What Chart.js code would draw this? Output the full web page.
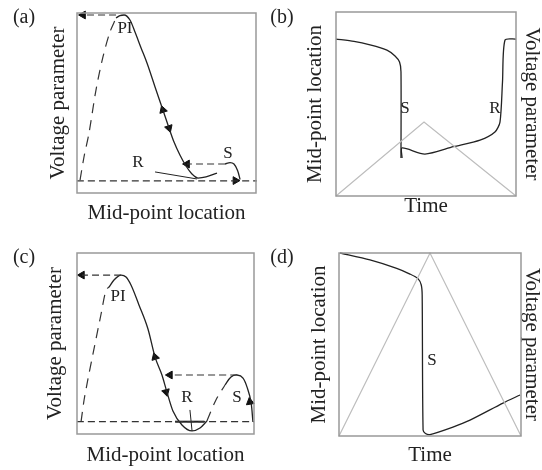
<!DOCTYPE html>
<html>
<head>
<meta charset="utf-8">
<script src="https://cdn.jsdelivr.net/npm/chart.js@4.4.0/dist/chart.umd.min.js"></script>
<style>
  html, body { margin: 0; padding: 0; background: #fff; }
  #wrap { position: relative; width: 542px; height: 470px; }
  .panel { position: absolute; width: 271px; height: 235px; }
</style>
</head>
<body>
<div id="wrap">
  <div class="panel" style="left:0;top:0"><canvas id="chartA"></canvas></div>
  <div class="panel" style="left:271px;top:0"><canvas id="chartB"></canvas></div>
  <div class="panel" style="left:0;top:235px"><canvas id="chartC"></canvas></div>
  <div class="panel" style="left:271px;top:235px"><canvas id="chartD"></canvas></div>
</div>
<script>
// Datos (ejes 0-100 en cada panel)

// Panel (a)
const aCurve = [[21.8,97.2],[24.0,98.6],[26.3,98.9],[29.6,96.1],[32.4,89.4],[35.8,80.6],[39.1,72.2],[43.6,58.9],[48.0,46.1],[51.4,36.1],[54.2,28.3],[57.5,21.1],[60.9,15.0],[64.2,10.6],[67.6,8.3],[72.1,8.9],[78.2,11.1]];
const aUnstable = [[1.7,7.2],[3.9,20.0],[6.7,33.3],[10.6,57.2],[14.5,75.6],[18.4,89.4],[21.8,97.2]];
const aTopJump = [[21.8,98.9],[3.4,98.9]];
const aBase = [[0,6.7],[100.5,6.7]];
const aSJump = [[82.7,16.1],[61.5,16.1]];
const aHump = [[82.7,16.1],[85.5,16.9],[87.7,16.1],[89.7,12.5],[91.1,7.5]];
const aRLine = [[43.6,11.7],[67.0,7.8]];
const aArrows = [[48.0,46.1,-18],[51.4,36.1,162],[3.4,98.9,-90],[61.5,16.1,-90],[88.5,6.9,90]];
const aNotes = [['PI',26.8,91.1],['R',34.1,16.7],['S',84.4,22.2]];

// Panel (b)
const bDrop = [[0,85.3],[10,84.0],[18.9,82.1],[28.3,79.3],[32.8,76.1],[35.3,72.8],[36.1,67.5],[36.1,20.7]];
const bRise = [[36.7,20.7],[36.7,26.1],[49.4,22.8],[65.2,26.8],[80.0,30.4],[88.3,34.8],[91.1,40.2],[92.5,62.0],[93.9,84.8],[100,85.3]];
const bSweep = [[0,0],[48.9,40.2],[100,0]];
const bNotes = [['S',38.3,47.8],['R',88.3,47.8]];

// Panel (c)
const cCurve = [[18.1,81.2],[20.9,85.1],[24.9,87.8],[27.7,86.7],[30.5,82.3],[35.0,71.3],[40.1,58.0],[44.1,42.5],[48.0,32.6],[50.8,23.2],[54.2,12.7],[59.3,5.0],[65.0,1.7],[69.5,3.3],[73.4,7.2]];
const cUnstable = [[2.3,6.8],[4.0,18.8],[6.2,30.4],[9.6,47.0],[13.6,66.3],[16.4,79.6],[18.1,81.2]];
const cRise = [[73.4,7.2],[78.5,18.8],[83.6,27.1]];
const cHump = [[83.6,27.1],[87.0,31.5],[90.4,32.6],[93.8,30.9],[96.6,24.3],[98.3,17.7],[99.4,6.6]];
const cTopJump = [[24.9,87.8],[2.8,87.8]];
const cMidJump = [[90.4,32.6],[52.5,32.6]];
const cBase = [[0,6.8],[100,6.8]];
const cBaseSolid = [[55.4,6.8],[72.0,6.8]];
const cRLine = [[63.8,13.3],[65.0,1.7]];
const cArrows = [[44.1,42.5,-17],[50.3,23.2,165],[2.8,87.8,-90],[52.5,32.6,-90],[97.7,17.7,-9]];
const cNotes = [['PI',23.2,75.7],['R',62.1,20.4],['S',90.4,20.4]];

// Panel (d)
const dDrop = [[0.5,100],[17,96.2],[31.7,91.6],[39,88.5],[43.4,86],[45.2,82.5],[45.7,77],[46.2,3.3],[47.5,1.4],[50,0.8],[62.6,4.9],[72,8.7],[90.1,18],[99.5,22.4]];
const dSweep = [[0,0],[50,100],[100,0]];
const dNotes = [['S',51.1,41.5]];

const INK = '#222';
const FRAME = '#999';
const SERIF = "'Liberation Serif', 'Times New Roman', serif";

function pts(list) {
    return list.map(p => ({ x: p[0], y: p[1] }));
}

function solid(list, extra) {
    return Object.assign({ data: pts(list), showLine: true, borderColor: INK, borderWidth: 1.3,
        pointRadius: 0, tension: 0.35, clip: false }, extra || {});
}

function dashed(list, dash) {
    return solid(list, { borderDash: dash || [7, 4], tension: 0.3, borderWidth: 1.2, borderColor: '#333' });
}

function arrows(list) {
    return {
        data: list.map(p => ({ x: p[0], y: p[1] })),
        showLine: false,
        pointStyle: 'triangle',
        pointRadius: 4.5,
        pointRotation: list.map(p => p[2]),
        backgroundColor: '#111',
        borderColor: '#111',
        borderWidth: 1,
        clip: false
    };
}

// Plugin: marco, letra del panel y anotaciones
const sketchPlugin = {
    id: 'sketch',
    afterDatasetsDraw(chart, args, opts) {
        const ctx = chart.ctx;
        const area = chart.chartArea;
        ctx.save();
        ctx.strokeStyle = FRAME;
        ctx.lineWidth = 1.5;
        ctx.strokeRect(area.left, area.top, area.right - area.left, area.bottom - area.top);

        ctx.fillStyle = INK;
        ctx.textAlign = 'center';
        ctx.textBaseline = 'middle';
        ctx.font = '17px ' + SERIF;
        (opts.notes || []).forEach(n => {
            ctx.fillText(n[0], chart.scales.x.getPixelForValue(n[1]), chart.scales.y.getPixelForValue(n[2]));
        });

        ctx.font = '20px ' + SERIF;
        ctx.fillText(opts.tag, opts.tagX, opts.tagY);
        ctx.restore();
    }
};

function makeScales(cfg) {
    const titleFont = { family: SERIF, size: 21, lineHeight: 1 };
    const s = {
        x: {
            type: 'linear', min: 0, max: 100,
            ticks: { display: false }, grid: { display: false }, border: { display: false },
            title: { display: true, text: cfg.xTitle, font: titleFont, color: INK, padding: { top: 0, bottom: cfg.xPad } },
            afterFit: sc => { sc.height = cfg.xH; }
        },
        y: {
            type: 'linear', min: 0, max: 100, position: 'left',
            ticks: { display: false }, grid: { display: false }, border: { display: false },
            title: { display: true, text: cfg.yTitle, font: titleFont, color: INK, padding: { top: cfg.yPad, bottom: 0 } },
            afterFit: sc => { sc.width = cfg.yW; }
        }
    };
    if (cfg.y2Title) {
        s.y2 = {
            type: 'linear', min: 0, max: 100, position: 'right',
            ticks: { display: false }, grid: { display: false }, border: { display: false },
            title: { display: true, text: cfg.y2Title, font: titleFont, color: INK, padding: { top: cfg.y2Pad, bottom: 0 } },
            afterFit: sc => { sc.width = cfg.y2W; }
        };
    }
    return s;
}

function makeChart(id, datasets, cfg) {
    return new Chart(document.getElementById(id), {
        type: 'scatter',
        data: { datasets: datasets },
        options: {
            responsive: true,
            maintainAspectRatio: false,
            animation: false,
            layout: { padding: { top: cfg.top, right: cfg.right, left: 0, bottom: 0 } },
            scales: makeScales(cfg),
            plugins: {
                legend: { display: false },
                tooltip: { enabled: false },
                sketch: { tag: cfg.tag, tagX: cfg.tagX, tagY: cfg.tagY, notes: cfg.notes }
            }
        },
        plugins: [sketchPlugin]
    });
}

makeChart('chartA', [
    dashed(aBase),
    dashed(aUnstable, [10, 7]),
    dashed(aTopJump),
    dashed(aSJump),
    solid(aCurve, { cubicInterpolationMode: 'monotone' }),
    solid(aHump),
    solid(aRLine, { tension: 0, borderWidth: 1 }),
    arrows(aArrows)
], {
    xTitle: 'Mid-point location', yTitle: 'Voltage parameter',
    top: 13, right: 15, yW: 77, xH: 42, yPad: 48, xPad: 11,
    tag: '(a)', tagX: 24, tagY: 18, notes: aNotes
});

makeChart('chartB', [
    solid(bSweep, { tension: 0, borderColor: '#bdbdbd', borderWidth: 1.2 }),
    solid(bDrop, { tension: 0.25 }),
    solid(bRise, { tension: 0.25 })
], {
    xTitle: 'Time', yTitle: 'Mid-point location', y2Title: 'Voltage parameter',
    top: 12, right: 0, yW: 65, y2W: 26, xH: 39, yPad: 34, y2Pad: 0, xPad: 18,
    tag: '(b)', tagX: 11, tagY: 18, notes: bNotes
});

makeChart('chartC', [
    dashed(cBase),
    solid(cBaseSolid, { tension: 0, borderWidth: 2 }),
    dashed(cUnstable, [10, 7]),
    dashed(cRise, [10, 7]),
    dashed(cTopJump),
    dashed(cMidJump),
    solid(cCurve, { cubicInterpolationMode: 'monotone' }),
    solid(cHump),
    solid(cRLine, { tension: 0, borderWidth: 1 }),
    arrows(cArrows)
], {
    xTitle: 'Mid-point location', yTitle: 'Voltage parameter',
    top: 18, right: 17, yW: 77, xH: 36, yPad: 45, xPad: 4,
    tag: '(c)', tagX: 24, tagY: 23, notes: cNotes
});

makeChart('chartD', [
    solid(dSweep, { tension: 0, borderColor: '#bdbdbd', borderWidth: 1.2 }),
    solid(dDrop, { tension: 0.25 })
], {
    xTitle: 'Time', yTitle: 'Mid-point location', y2Title: 'Voltage parameter',
    top: 18, right: 0, yW: 68, y2W: 21, xH: 34, yPad: 38, y2Pad: 0, xPad: 4,
    tag: '(d)', tagX: 11, tagY: 23, notes: dNotes
});
</script>
</body>
</html>
